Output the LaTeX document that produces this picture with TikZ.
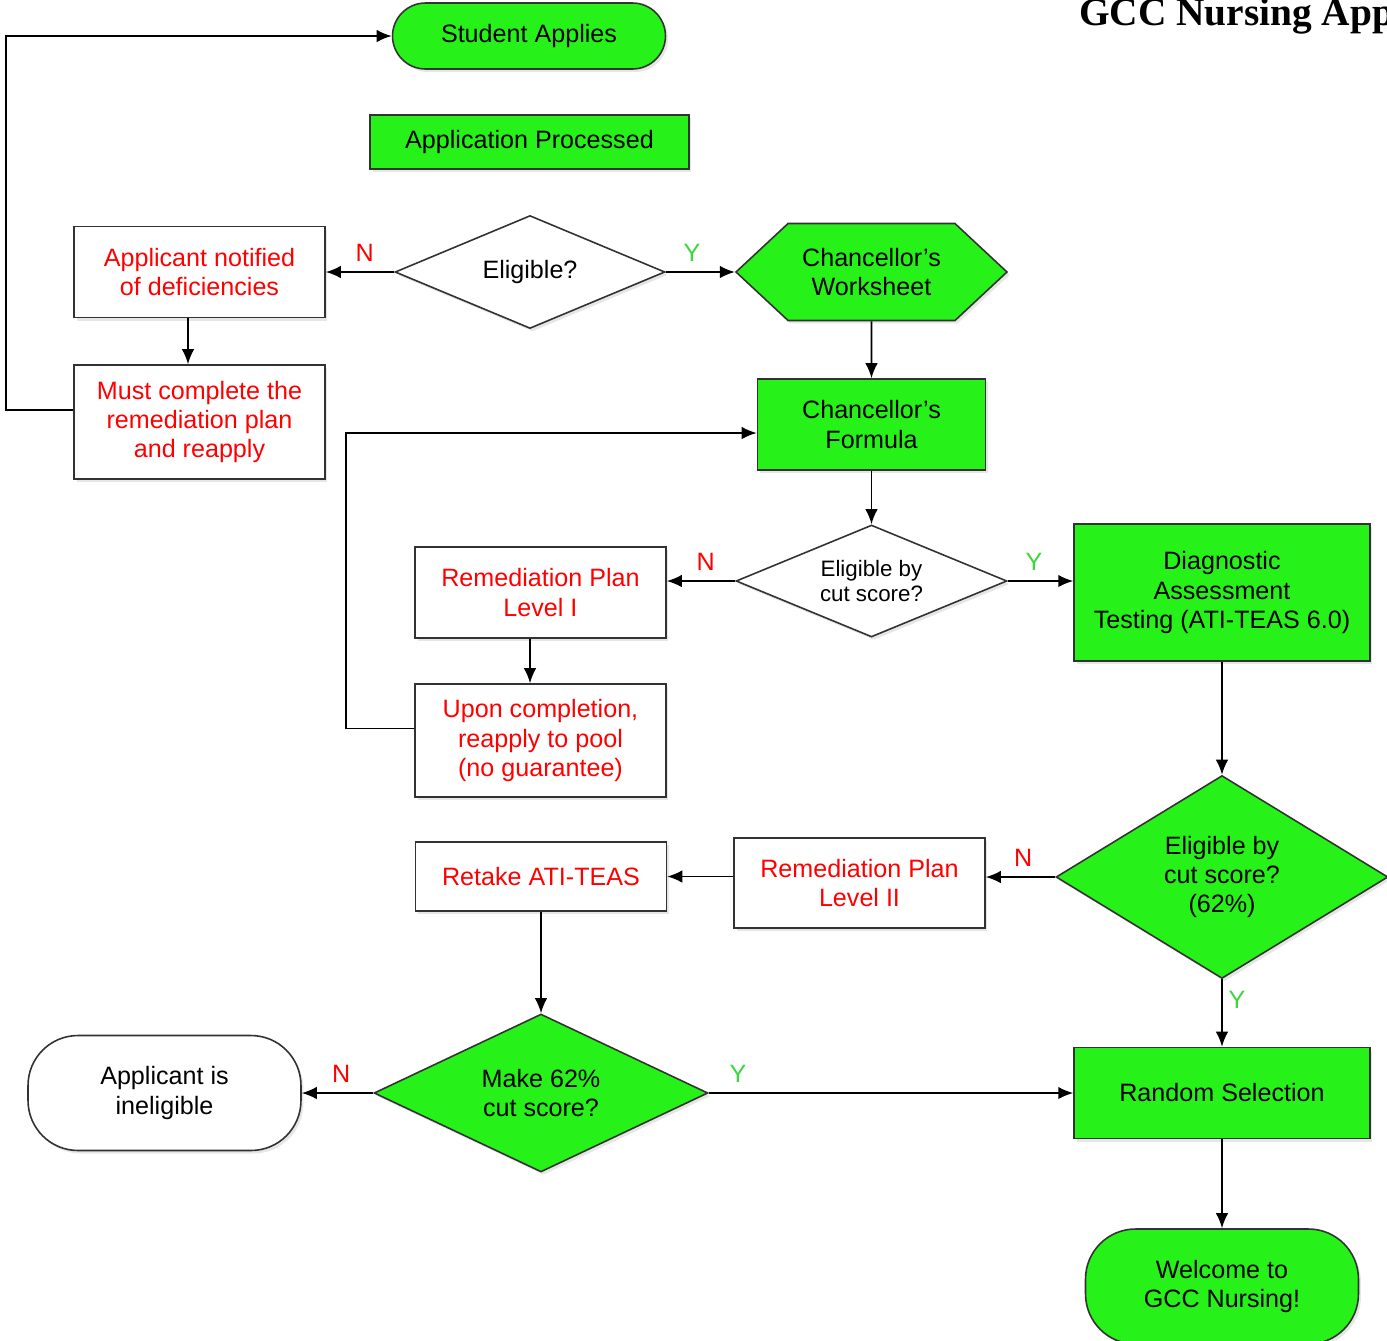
\documentclass[tikz,border=0pt]{standalone}
\usepackage{fontspec}
\setmainfont{Liberation Sans}
\newfontfamily\titlefont{Liberation Serif}
\usetikzlibrary{positioning, shapes.geometric, shapes.symbols, arrows.meta, shadows}

\definecolor{boxgreen}{RGB}{38,242,26}
\definecolor{yesgreen}{RGB}{60,215,60}
\definecolor{rimgray}{RGB}{50,50,50}

\tikzset{
  base/.style = {draw=rimgray, line width=0.9pt, align=center, inner sep=0pt,
                 drop shadow={opacity=0.2, shadow xshift=0.05cm, shadow yshift=-0.06cm}},
  greenbox/.style = {base, rectangle, fill=boxgreen},
  redbox/.style = {base, rectangle, fill=white, text=red},
  greenterm/.style = {base, rectangle, rounded corners=0.66cm, fill=boxgreen},
  endterm/.style = {base, rectangle, rounded corners=1cm},
  decide/.style = {base, diamond, fill=white},
  hexbox/.style = {base, signal, signal to=east and west, signal pointer angle=86, fill=boxgreen},
  link/.style = {->, line width=1pt},
  no/.style = {text=red, yshift=2pt},
  yes/.style = {text=yesgreen, yshift=2pt}
}

\begin{document}
\begin{tikzpicture}[x=0.02cm, y=-0.02cm, >={Latex[length=0.3cm, width=0.25cm]},
                    font=\fontsize{14.3}{16.6}\selectfont]
  \useasboundingbox (0,0) rectangle (1387,1340);

  \node[anchor=base west, font=\titlefont\bfseries\fontsize{22.4}{26}\selectfont] (title) at (1073,25) {GCC Nursing App};

  % top part
  \node[greenterm, minimum width=5.46cm, minimum height=1.32cm] (start) at (529,36) {Student Applies};
  \node[greenbox, minimum width=6.38cm, minimum height=1.08cm] (processed) at (529.5,142) {Application Processed};
  \node[decide, shape aspect=2.4, minimum width=5.4cm, minimum height=2.26cm] (elig) at (530,272) {Eligible?};
  \node[redbox, minimum width=5.02cm, minimum height=1.82cm] (notified) at (199.5,272) {Applicant notified\\of deficiencies};
  \node[redbox, minimum width=5.02cm, minimum height=2.28cm] (mustdo) at (199.5,422) {Must complete the\\remediation plan\\and reapply};
  \node[hexbox, minimum width=5.42cm, minimum height=1.94cm] (worksheet) at (871.5,272) {Chancellor's\\Worksheet};
  \node[greenbox, minimum width=4.56cm, minimum height=1.82cm] (formula) at (871.5,424.5) {Chancellor's\\Formula};

  % middle part
  \node[decide, shape aspect=2.4, minimum width=5.42cm, minimum height=2.24cm,
        font=\fontsize{12.7}{14.2}\selectfont] (cutscore) at (871.5,581) {Eligible by\\cut score?};
  \node[redbox, minimum width=5.02cm, minimum height=1.82cm] (levelone) at (540.5,592.5) {Remediation Plan\\Level I};
  \node[redbox, minimum width=5.02cm, minimum height=2.26cm] (pool) at (540.5,740.5) {Upon completion,\\reapply to pool\\(no guarantee)};
  \node[greenbox, minimum width=5.92cm, minimum height=2.74cm] (diag) at (1222,592.5) {Diagnostic\\Assessment\\Testing (ATI-TEAS 6.0)};
  \node[decide, fill=boxgreen, shape aspect=1.64, minimum width=6.64cm, minimum height=4.06cm] (cutgreen) at (1222,877) {Eligible by\\cut score?\\(62\%)};
  \node[redbox, minimum width=5.02cm, minimum height=1.8cm] (leveltwo) at (859.5,883) {Remediation Plan\\Level II};
  \node[redbox, minimum width=5.02cm, minimum height=1.38cm] (retake) at (541,876.5) {Retake ATI-TEAS};

  % bottom part
  \node[decide, fill=boxgreen, shape aspect=2.1, minimum width=6.68cm, minimum height=3.16cm] (make) at (541,1093) {Make 62\%\\cut score?};
  \node[endterm, fill=white, minimum width=5.46cm, minimum height=2.3cm] (inelig) at (164.5,1093) {Applicant is\\ineligible};
  \node[greenbox, minimum width=5.92cm, minimum height=1.82cm] (random) at (1222,1093) {Random Selection};
  \node[endterm, fill=boxgreen, minimum width=5.46cm, minimum height=2.3cm] (welcome) at (1222,1286.5) {Welcome to\\GCC Nursing!};

  \path[link]
    (elig) edge node[no, above, pos=.43] {N} (notified)
           edge node[yes, above, pos=.38] {Y} (worksheet)
    ([xshift=-0.23cm]notified.south) edge ([xshift=-0.23cm]mustdo.north)
    (worksheet) edge (formula)
    (formula) edge (cutscore)
    (cutscore.west) edge node[no, above, pos=.43] {N} (cutscore.west -| levelone.east)
    (cutscore.east) edge node[yes, above, pos=.4] {Y} (cutscore.east -| diag.west)
    ([xshift=-0.21cm]levelone.south) edge ([xshift=-0.21cm]pool.north)
    (diag) edge (cutgreen)
    (cutgreen.west) edge node[no, above, pos=.46] {N} (cutgreen.west -| leveltwo.east)
    (cutgreen) edge node[yes, right, pos=.35] {Y} (random)
    (retake.east -| leveltwo.west) edge (retake.east)
    (retake) edge (make)
    (make) edge node[no, above, pos=.45] {N} (inelig)
           edge node[yes, above, pos=.08] {Y} (random)
    (random) edge (welcome);

  % loops back
  \draw[link] ([yshift=0.24cm]mustdo.west) -- ++(-67,0) |- (start.west);
  \draw[link] ([yshift=0.24cm]pool.west) -- ++(-68,0) |- ([yshift=-0.17cm]formula.west);
\end{tikzpicture}
\end{document}
